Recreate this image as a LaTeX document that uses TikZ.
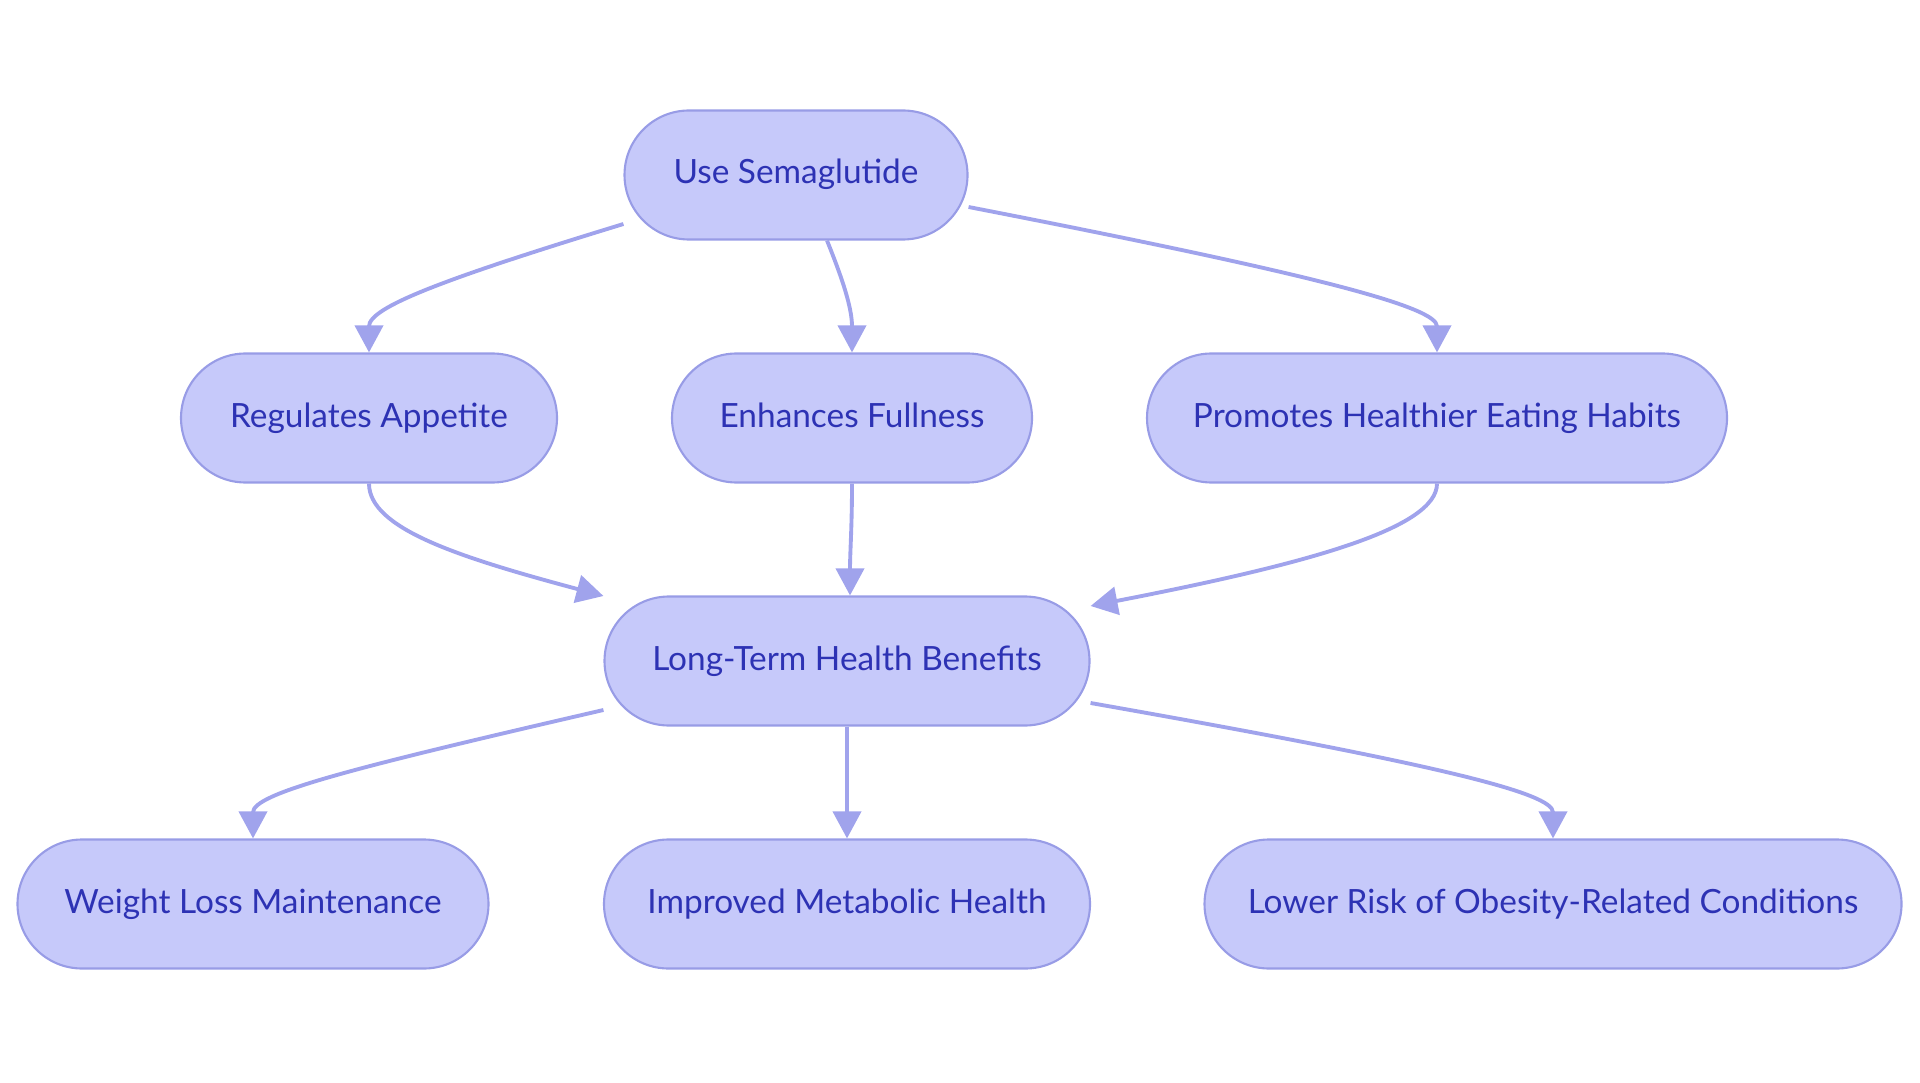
\documentclass[tikz,border=0pt]{standalone}
\usepackage{fontspec}
\setmainfont{Lato}
\usetikzlibrary{shapes.misc,arrows.meta}

\definecolor{boxfill}{HTML}{C6C9FA}
\definecolor{boxline}{HTML}{989CE6}
\definecolor{boxtext}{HTML}{2D32B4}
\definecolor{edgeline}{HTML}{A0A3EC}

\tikzset{box/.style={rounded rectangle,draw=boxline,fill=boxfill,line width=0.6pt,text=boxtext,font=\fontsize{9.5}{11}\selectfont,minimum height=1.29cm,inner sep=0cm,text height=0.26cm,text depth=0.08cm},
link/.style={draw=edgeline,line width=1.1pt,-{Triangle[length=0.27cm,width=0.28cm]}}}

\begin{document}
\begin{tikzpicture}
\useasboundingbox (0,0) rectangle (19.20,-10.83);

%% Coordinates of nodes.
\coordinate (use) at (7.96,-1.75);
\coordinate (appetite) at (3.69,-4.18);
\coordinate (fullness) at (8.52,-4.18);
\coordinate (habits) at (14.37,-4.18);
\coordinate (benefits) at (8.47,-6.61);
\coordinate (weight) at (2.53,-9.04);
\coordinate (metabolic) at (8.47,-9.04);
\coordinate (risk) at (15.53,-9.04);

%% nodes
\node [box,minimum width=3.43cm] (n0) at (use) {Use Semaglutide};
\node [box,minimum width=3.76cm] (n1) at (appetite) {Regulates Appetite};
\node [box,minimum width=3.60cm] (n2) at (fullness) {Enhances Fullness};
\node [box,minimum width=5.80cm] (n3) at (habits) {Promotes Healthier Eating Habits};
\node [box,minimum width=4.85cm] (n4) at (benefits) {Long-Term Health Benefits};
\node [box,minimum width=4.71cm] (n5) at (weight) {Weight Loss Maintenance};
\node [box,minimum width=4.86cm] (n6) at (metabolic) {Improved Metabolic Health};
\node [box,minimum width=6.97cm] (n7) at (risk) {Lower Risk of Obesity-Related Conditions};

%% edges
\draw [link] ([yshift=-0.49cm]n0.west) to [out=197,in=90,out distance=1.9cm,in distance=0.45cm] (n1.north);
\draw [link] ([xshift=0.31cm]n0.south) to [out=-68,in=90,out distance=0.4cm,in distance=0.45cm] (n2.north);
\draw [link] ([yshift=-0.32cm]n0.east) to [out=-11,in=90,out distance=3.6cm,in distance=0.45cm] (n3.north);
\draw [link] (n1.south) to [out=-90,in=165,out distance=0.45cm,in distance=1.5cm] ([yshift=0.65cm]n4.west);
\draw [link] (n2.south) to [out=-90,in=90] ([xshift=0.03cm]n4.north);
\draw [link] (n3.south) to [out=-90,in=11,out distance=0.45cm,in distance=2.2cm] ([yshift=0.55cm]n4.east);
\draw [link] ([yshift=-0.49cm]n4.west) to [out=193,in=90,out distance=2.6cm,in distance=0.45cm] (n5.north);
\draw [link] (n4.south) -- (n6.north);
\draw [link] ([yshift=-0.42cm]n4.east) to [out=-10,in=90,out distance=3.6cm,in distance=0.45cm] (n7.north);

\end{tikzpicture}
\end{document}
